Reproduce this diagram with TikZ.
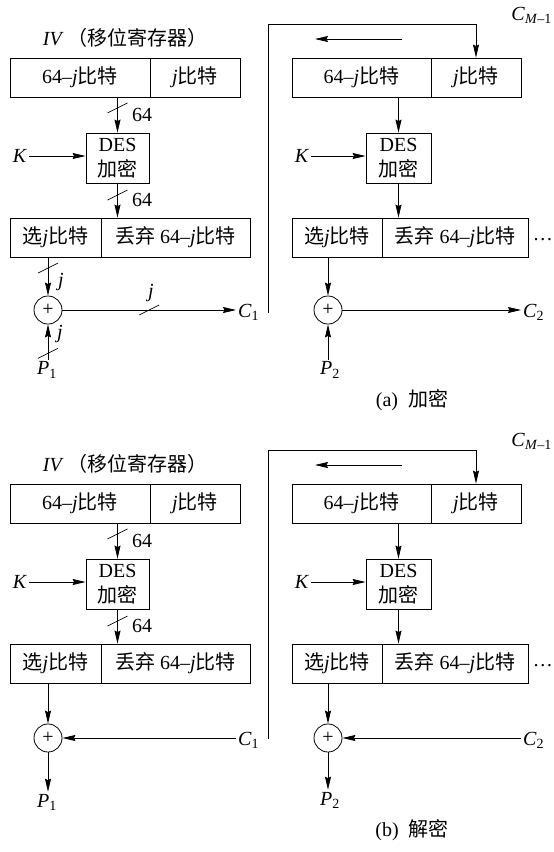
\documentclass[tikz,border=0pt]{standalone}
\usepackage{fontspec}
\setmainfont{Liberation Serif}
\newfontfamily\cjk{Noto Sans CJK SC}
\usetikzlibrary{arrows.meta,calc}
\newcommand\fs{\fontsize{20}{25}\selectfont}
\newcommand\bits{{\cjk 比特}}
\newcommand\slashmark[1]{\draw[ln] ($(#1)+(-10,5)$) -- ($(#1)+(10,-5)$);}
\newcommand\commonpart[1]{%
  \node (#1iv) at (125,38) {\textit{IV}\,{\cjk （移位寄存器）}};
  % left column
  \node[cell, minimum width=140pt] (#1rL1) at (80,77.5) {64\textendash\textit{j}\bits};
  \node[cell, minimum width=90pt] (#1rR1) at (195,77.5) {\textit{j}\bits};
  \node[desbox, minimum width=63pt] (#1des1) at (117.5,158) {DES\\{\cjk 加密}};
  \node (#1K1) at (20,156) {\textit{K}};
  \node[cell, minimum width=91pt] (#1sL1) at (55.5,237.5) {{\cjk 选}\textit{j}\bits};
  \node[cell, minimum width=149pt] (#1sR1) at (175.5,237.5) {{\cjk 丢弃} 64\textendash\textit{j}\bits};
  \draw[arr] (#1des1.north |- #1rL1.south) -- (#1des1.north) coordinate[pos=0.3] (#1m1);
  \slashmark{#1m1}
  \node (#1n1) at (142,115) {64};
  \draw[arr] (#1des1.south) -- (#1des1.south |- #1sR1.north) coordinate[pos=0.34] (#1m2);
  \slashmark{#1m2}
  \node (#1n2) at (142,200) {64};
  \draw[arr] (#1K1.east) -- (#1des1.west |- #1K1.east);
  % right column
  \node[cell, minimum width=139pt] (#1rL2) at (361.5,77.5) {64\textendash\textit{j}\bits};
  \node[cell, minimum width=90pt] (#1rR2) at (476,77.5) {\textit{j}\bits};
  \node[desbox, minimum width=65pt] (#1des2) at (398.5,158) {DES\\{\cjk 加密}};
  \node (#1K2) at (302,156) {\textit{K}};
  \node[cell, minimum width=90pt] (#1sL2) at (337,237.5) {{\cjk 选}\textit{j}\bits};
  \node[cell, minimum width=146pt] (#1sR2) at (455,237.5) {{\cjk 丢弃} 64\textendash\textit{j}\bits};
  \draw[arr] (#1des2.north |- #1rL2.south) -- (#1des2.north);
  \draw[arr] (#1des2.south) -- (#1des2.south |- #1sR2.north);
  \draw[arr] (#1K2.east) -- (#1des2.west |- #1K2.east);
  \coordinate (#1fb0) at (268,313);
  \coordinate (#1fb1) at (268,24);
  \draw[arr] (#1fb0) -- (#1fb1) -| (#1rR2.north);
  \coordinate (#1sa1) at (402,39);
  \coordinate (#1sa2) at (315,39);
  \draw[arr] (#1sa1) -- (#1sa2);
  \node[anchor=east, inner sep=0pt] (#1dots) at (553,240) {\dots};
  \node[anchor=east, inner sep=1pt] (#1CM) at (553,15) {\textit{C}\textsubscript{\textit{M}\textendash1}};
}
\begin{document}
\begin{tikzpicture}[x=1pt,y=-1pt,
  every node/.style={font=\fs, inner sep=2pt},
  ln/.style={line width=0.7pt},
  arr/.style={line width=0.75pt, -{Stealth[length=13pt,width=6pt,inset=1.5pt]}},
  cell/.style={draw, line width=0.8pt, minimum height=39pt, inner sep=0pt},
  desbox/.style={draw, line width=0.8pt, minimum height=50pt, inner sep=0pt, align=center},
  xorc/.style={draw, line width=0.8pt, circle, minimum size=28pt, inner sep=0pt}]
\useasboundingbox (0,0) rectangle (554,852);

% ===== (a) encryption =====
\commonpart{a}
\node[xorc] (ax1) at (48,310) {+};
\draw[arr] (ax1.north |- asL1.south) -- (ax1.north) coordinate[pos=0.28] (aj1);
\slashmark{aj1}
\node (ajl1) at (61,282) {\textit{j}};
\node[anchor=west] (aC1) at (236,312) {\textit{C}\textsubscript{1}};
\draw[arr] (ax1.east) -- (ax1.east -| aC1.west) coordinate[pos=0.5] (aj2);
\slashmark{aj2}
\node (ajl2) at (151,293) {\textit{j}};
\node (aP1) at (47,370) {\textit{P}\textsubscript{1}};
\draw[arr] (ax1.south |- aP1.north) -- (ax1.south) coordinate[pos=0.18] (aj3);
\slashmark{aj3}
\node (ajl3) at (60,334) {\textit{j}};

\node[xorc] (ax2) at (328,310) {+};
\draw[arr] (ax2.north |- asL2.south) -- (ax2.north);
\node[anchor=west] (aC2) at (521,312) {\textit{C}\textsubscript{2}};
\draw[arr] (ax2.east) -- (ax2.east -| aC2.west);
\node (aP2) at (330,370) {\textit{P}\textsubscript{2}};
\draw[arr] (ax2.south |- aP2.north) -- (ax2.south);
\node (acap) at (412,400) {(a)\ \ {\cjk 加密}};

% ===== (b) decryption =====
\begin{scope}[shift={(0,426)}]
\commonpart{b}
\end{scope}
\node[xorc] (bx1) at (48,738) {+};
\draw[arr] (bx1.north |- bsL1.south) -- (bx1.north);
\node[anchor=west] (bC1) at (236,740) {\textit{C}\textsubscript{1}};
\draw[arr] (bC1.west |- bx1.east) -- (bx1.east);
\node (bP1) at (47,802) {\textit{P}\textsubscript{1}};
\draw[arr] (bx1.south) -- (bx1.south |- bP1.north);

\node[xorc] (bx2) at (328,738) {+};
\draw[arr] (bx2.north |- bsL2.south) -- (bx2.north);
\node[anchor=west] (bC2) at (521,740) {\textit{C}\textsubscript{2}};
\draw[arr] (bC2.west |- bx2.east) -- (bx2.east);
\node (bP2) at (330,800) {\textit{P}\textsubscript{2}};
\draw[arr] (bx2.south) -- (bx2.south |- bP2.north);
\node (bcap) at (412,830) {(b)\ \ {\cjk 解密}};
\end{tikzpicture}
\end{document}
